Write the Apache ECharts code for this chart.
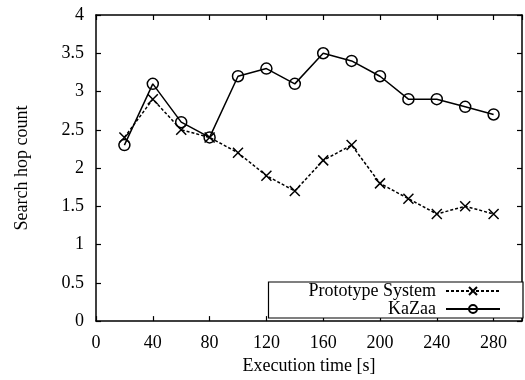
<!DOCTYPE html>
<html><head><meta charset="utf-8">
<script src="https://cdn.jsdelivr.net/npm/echarts@6/dist/echarts.min.js"></script>
<style>html,body{margin:0;padding:0;background:#fff}#c{width:525px;height:380px}</style>
</head><body><div id="c"></div>
<script>
const times = [20,40,60,80,100,120,140,160,180,200,220,240,260,280];
const prototypeSystem = [2.4,2.9,2.5,2.4,2.2,1.9,1.7,2.1,2.3,1.8,1.6,1.4,1.5,1.4];
const kazaa = [2.3,3.1,2.6,2.4,3.2,3.3,3.1,3.5,3.4,3.2,2.9,2.9,2.8,2.7];
const seriesNames = ['Prototype System','KaZaa'];
const xTitle = 'Execution time [s]';
const yTitle = 'Search hop count';

const FONT = 'Liberation Serif';
const FS = 18;
const chart = echarts.init(document.getElementById('c'));
const pairs = arr => times.map((t,i)=>[t,arr[i]]);
const tickStyle = {show:true, inside:true, length:5, lineStyle:{color:'#000', width:1.2}};
const lineStyle = {show:true, onZero:false, lineStyle:{color:'#000', width:1.5}};
chart.setOption({
  animation:false,
  backgroundColor:'#fff',
  textStyle:{fontFamily:FONT},
  grid:{left:96, right:3, top:15, bottom:57, show:false},
  legend:{
    orient:'vertical', right:2, bottom:62, align:'right',
    itemWidth:54, itemHeight:10, itemGap:0,
    padding:[0,22,0,40],
    backgroundColor:'#fff', borderColor:'#000', borderWidth:1.2,
    textStyle:{fontFamily:FONT, fontSize:FS, color:'#000', lineHeight:18, padding:[0,5,0,0]},
    data:seriesNames
  },
  xAxis:[{
    type:'value', position:'bottom', min:0, max:300, interval:40,
    name:xTitle, nameLocation:'middle', nameGap:30,
    nameTextStyle:{fontFamily:FONT, fontSize:FS, color:'#000'},
    axisLine:lineStyle,
    axisTick:tickStyle, splitLine:{show:false},
    axisLabel:{fontFamily:FONT, fontSize:FS, color:'#000', margin:13, formatter:v=>v>290?'':String(v)}
  },{
    type:'value', position:'top', min:0, max:300, interval:40,
    axisLine:lineStyle,
    axisTick:tickStyle, axisLabel:{show:false}, splitLine:{show:false}
  }],
  yAxis:[{
    type:'value', position:'left', min:0, max:4, interval:0.5,
    name:yTitle, nameLocation:'middle', nameGap:65,
    nameTextStyle:{fontFamily:FONT, fontSize:FS, color:'#000'},
    axisLine:lineStyle,
    axisTick:tickStyle, splitLine:{show:false},
    axisLabel:{fontFamily:FONT, fontSize:FS, color:'#000', margin:12}
  },{
    type:'value', position:'right', min:0, max:4, interval:0.5,
    axisLine:lineStyle,
    axisTick:tickStyle, axisLabel:{show:false}, splitLine:{show:false}
  }],
  series:[{
    name:seriesNames[0], type:'line', data:pairs(prototypeSystem),
    symbol:'path://M0,0L10,10M10,0L0,10', symbolSize:10,
    lineStyle:{color:'#000', width:1.5, type:[3,2]},
    itemStyle:{color:'#000', borderColor:'#000', borderWidth:1.5},
    z:2
  },{
    name:seriesNames[1], type:'line', data:pairs(kazaa),
    symbol:'circle', symbolSize:11,
    lineStyle:{color:'#000', width:1.5},
    itemStyle:{color:'none', borderColor:'#000', borderWidth:1.5},
    z:3
  }]
});
</script></body></html>
